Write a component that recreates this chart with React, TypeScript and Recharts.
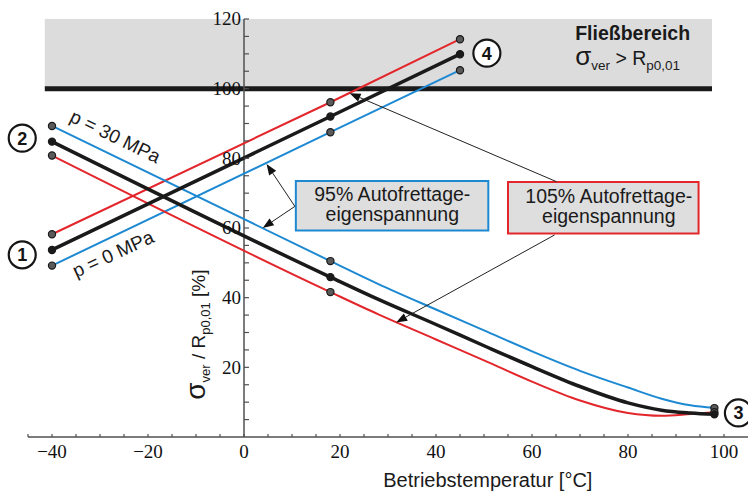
import React from "react";
import {
  ComposedChart,
  Line,
  XAxis,
  YAxis,
  ReferenceArea,
  ReferenceLine,
  ReferenceDot,
} from "recharts";

// ---- data (temperatures in °C, values in % of Rp0,01) ----
const risingTemps = [-40, 18, 45]; // p = 0 MPa
const rising95 = [49.2, 87.5, 105.3];
const rising100 = [53.7, 92.0, 109.9];
const rising105 = [58.2, 96.1, 114.2];

const fallingTemps = [-40, 18, 28, 40, 50, 60, 70, 80, 87, 93, 98]; // p = 30 MPa
const falling95 = [89.3, 50.5, 43.9, 36.6, 30.6, 24.6, 19.0, 14.2, 11.0, 9.1, 8.3];
const falling100 = [84.8, 45.9, 39.5, 32.3, 26.2, 20.2, 14.5, 9.8, 7.7, 6.9, 6.5];
const falling105 = [80.8, 41.6, 35.2, 28.0, 22.0, 15.9, 10.5, 6.9, 6.1, 6.6, 7.1];

const markedTemps = [-40, 18, 45, 98];

const xTicks = [-45, -40, -35, -30, -25, -20, -15, -10, -5, 0, 5, 10, 15, 20, 25, 30, 35, 40, 45, 50, 55, 60, 65, 70, 75, 80, 85, 90, 95, 100];
const xLabelTicks = [-40, -20, 0, 20, 40, 60, 80, 100];
const yLabelTicks = [20, 40, 60, 80, 100, 120];
const yMinorTicks = [5, 10, 15, 20, 25, 30, 35, 40, 45, 50, 55, 60, 65, 70, 75, 80, 85, 90, 95, 100, 105, 110, 115, 120];

const flowLimit = 100;
const yMax = 120;

const BLUE = "#1d89d2";
const RED = "#e3262b";
const BLACK = "#1a1a1a";
const AXIS = "#505050";
const SANS = "'Liberation Sans', Arial, sans-serif";
const SERIF = "'Liberation Serif', 'Times New Roman', serif";

const toPoints = (xs: number[], ys: number[]) => xs.map((x, i) => ({ x, y: ys[i] }));

const makeDot = (fill: string) => (p: any) => {
  const key = `d-${p.index}`;
  if (!p.payload || !markedTemps.includes(p.payload.x)) return <g key={key} />;
  return <circle key={key} cx={p.cx} cy={p.cy} r={3.6} fill={fill} stroke="#1a1a1a" strokeWidth={1.2} />;
};

const arrowShape = (p: any) => {
  const { x1, y1, x2, y2 } = p;
  const dx = x2 - x1;
  const dy = y2 - y1;
  const len = Math.sqrt(dx * dx + dy * dy) || 1;
  const ux = dx / len;
  const uy = dy / len;
  const hl = 11;
  const hw = 4.2;
  const bx = x2 - ux * hl;
  const by = y2 - uy * hl;
  const pts = `${x2},${y2} ${bx - uy * hw},${by + ux * hw} ${bx + uy * hw},${by - ux * hw}`;
  return (
    <g>
      <line x1={x1} y1={y1} x2={bx} y2={by} stroke="#222" strokeWidth={1} />
      <polygon points={pts} fill="#111" />
    </g>
  );
};

const circleNum = (label: string) => (p: any) => (
  <g>
    <circle cx={p.cx} cy={p.cy} r={13.5} fill="#fff" stroke="#151515" strokeWidth={2.2} />
    <text x={p.cx} y={p.cy} dy="0.36em" textAnchor="middle" fontFamily={SANS} fontWeight="bold" fontSize={18} fill="#151515">
      {label}
    </text>
  </g>
);

const yTickMark = (p: any) => <line x1={p.cx} y1={p.cy} x2={p.cx + 5} y2={p.cy} stroke={AXIS} strokeWidth={1.2} />;

const yTickLabel = (v: number) => (p: any) => (
  <text x={p.cx - 3} y={p.cy} dy="0.34em" textAnchor="end" fontFamily={SERIF} fontSize={19} fill="#111">
    {v}
  </text>
);

const rotatedText = (label: string, angle: number) => (p: any) => (
  <text x={p.cx} y={p.cy} textAnchor="middle" fontFamily={SANS} fontSize={19} fill="#1a1a1a" transform={`rotate(${angle} ${p.cx} ${p.cy})`}>
    {label}
  </text>
);

const boxText = (l1: string, l2: string) => (p: any) => (
  <text textAnchor="middle" fontFamily={SANS} fontSize={19.5} fill="#1a1a1a">
    <tspan x={p.cx} y={p.cy - 5}>{l1}</tspan>
    <tspan x={p.cx} y={p.cy + 15.5}>{l2}</tspan>
  </text>
);

const yTitle = (p: any) => (
  <text x={p.cx} y={p.cy} textAnchor="middle" fontFamily={SANS} fontSize={19} fill="#1a1a1a" transform={`rotate(-90 ${p.cx} ${p.cy})`}>
    <tspan fontSize={28}>σ</tspan>
    <tspan fontSize={13} dy={5}>ver</tspan>
    <tspan dy={-5}> / R</tspan>
    <tspan fontSize={13} dy={5}>p0,01</tspan>
    <tspan dy={-5}> [%]</tspan>
  </text>
);

const flowText = (p: any) => (
  <g>
    <text x={p.cx} y={p.cy} fontFamily={SANS} fontSize={19.5} fontWeight="bold" fill="#1a1a1a">
      Fließbereich
    </text>
    <text x={p.cx} y={p.cy + 25} fontFamily={SANS} fontSize={19.5} fill="#1a1a1a">
      <tspan fontSize={26}>σ</tspan>
      <tspan fontSize={13.5} dy={5}>ver</tspan>
      <tspan dy={-5}> &gt; R</tspan>
      <tspan fontSize={13.5} dy={5}>p0,01</tspan>
    </text>
  </g>
);

const xTitle = (p: any) => (
  <text x={p.cx} y={p.cy} textAnchor="middle" fontFamily={SANS} fontSize={20} fill="#1a1a1a">
    Betriebstemperatur [°C]
  </text>
);

const fmtX = (v: number) => (xLabelTicks.includes(v) ? (v < 0 ? `\u2212${Math.abs(v)}` : `${v}`) : "");

export default function App() {
  return (
    <div style={{ position: "absolute", left: 0, top: 0, background: "#fff" }}>
      <ComposedChart width={748} height={492} margin={{ top: 19, right: 0, bottom: 25, left: 28 }}>
        <XAxis
          type="number"
          dataKey="x"
          domain={[-45, 105]}
          allowDataOverflow
          ticks={xTicks}
          interval={0}
          tickFormatter={fmtX}
          tickSize={-3}
          tickMargin={11}
          height={30}
          stroke={AXIS}
          axisLine={{ stroke: AXIS, strokeWidth: 1.5 }}
          tickLine={{ stroke: AXIS, strokeWidth: 1.2 }}
          tick={{ fontFamily: SERIF, fontSize: 19, fill: "#111" }}
        />
        <YAxis type="number" dataKey="y" domain={[0, yMax]} hide allowDataOverflow />

        <ReferenceArea x1={-41.5} x2={97.5} y1={flowLimit} y2={yMax} fill="#dcdcdc" fillOpacity={1} stroke="none" />
        <ReferenceLine segment={[{ x: -41.5, y: flowLimit }, { x: 97.5, y: flowLimit }]} stroke={BLACK} strokeWidth={5} />

        <ReferenceLine x={0} stroke={AXIS} strokeWidth={1.5} />
        {yMinorTicks.map((v) => (
          <ReferenceDot key={`ym${v}`} x={0} y={v} r={0} shape={yTickMark} />
        ))}
        {yLabelTicks.map((v) => (
          <ReferenceDot key={`yl${v}`} x={0} y={v} r={0} shape={yTickLabel(v)} />
        ))}

        <Line data={toPoints(risingTemps, rising105)} dataKey="y" type="linear" stroke={RED} strokeWidth={2} dot={makeDot("#5a5a5a")} isAnimationActive={false} />
        <Line data={toPoints(risingTemps, rising95)} dataKey="y" type="linear" stroke={BLUE} strokeWidth={2} dot={makeDot("#5a5a5a")} isAnimationActive={false} />
        <Line data={toPoints(fallingTemps, falling95)} dataKey="y" type="monotone" stroke={BLUE} strokeWidth={2} dot={makeDot("#5a5a5a")} isAnimationActive={false} />
        <Line data={toPoints(fallingTemps, falling105)} dataKey="y" type="monotone" stroke={RED} strokeWidth={2} dot={makeDot("#5a5a5a")} isAnimationActive={false} />
        <Line data={toPoints(risingTemps, rising100)} dataKey="y" type="linear" stroke={BLACK} strokeWidth={3.5} dot={makeDot("#1a1a1a")} isAnimationActive={false} />
        <Line data={toPoints(fallingTemps, falling100)} dataKey="y" type="monotone" stroke={BLACK} strokeWidth={3.5} dot={makeDot("#1a1a1a")} isAnimationActive={false} />

        <ReferenceArea x1={10.8} x2={50.9} y1={59.3} y2={73.5} fill="#dedede" fillOpacity={1} stroke={BLUE} strokeWidth={2} />
        <ReferenceArea x1={55.0} x2={94.7} y1={58.4} y2={73.2} fill="#dedede" fillOpacity={1} stroke={RED} strokeWidth={2} />
        <ReferenceDot x={30.9} y={66.4} r={0} shape={boxText("95% Autofrettage-", "eigenspannung")} />
        <ReferenceDot x={76.0} y={65.8} r={0} shape={boxText("105% Autofrettage-", "eigenspannung")} />

        <ReferenceLine segment={[{ x: 10.6, y: 66.2 }, { x: 4.7, y: 78.4 }]} shape={arrowShape} />
        <ReferenceLine segment={[{ x: 10.6, y: 66.2 }, { x: 3.9, y: 60.0 }]} shape={arrowShape} />
        <ReferenceLine segment={[{ x: 65.1, y: 73.3 }, { x: 22.0, y: 98.7 }]} shape={arrowShape} />
        <ReferenceLine segment={[{ x: 64.7, y: 58.0 }, { x: 31.7, y: 32.9 }]} shape={arrowShape} />

        <ReferenceDot x={-27.4} y={84.6} r={0} shape={rotatedText("p = 30 MPa", 26)} />
        <ReferenceDot x={-26.7} y={50.9} r={0} shape={rotatedText("p = 0 MPa", -24.5)} />

        <ReferenceDot x={-46.2} y={85.8} r={0} ifOverflow="visible" shape={circleNum("2")} />
        <ReferenceDot x={-46.2} y={52.3} r={0} ifOverflow="visible" shape={circleNum("1")} />
        <ReferenceDot x={50.6} y={110.2} r={0} ifOverflow="visible" shape={circleNum("4")} />
        <ReferenceDot x={103} y={6.9} r={0} ifOverflow="visible" shape={circleNum("3")} />

        <ReferenceDot x={69.0} y={114.0} r={0} shape={flowText} />
        <ReferenceDot x={-8.1} y={29.4} r={0} shape={yTitle} />
        <ReferenceDot x={50.8} y={-14.3} r={0} ifOverflow="visible" shape={xTitle} />
      </ComposedChart>
    </div>
  );
}
